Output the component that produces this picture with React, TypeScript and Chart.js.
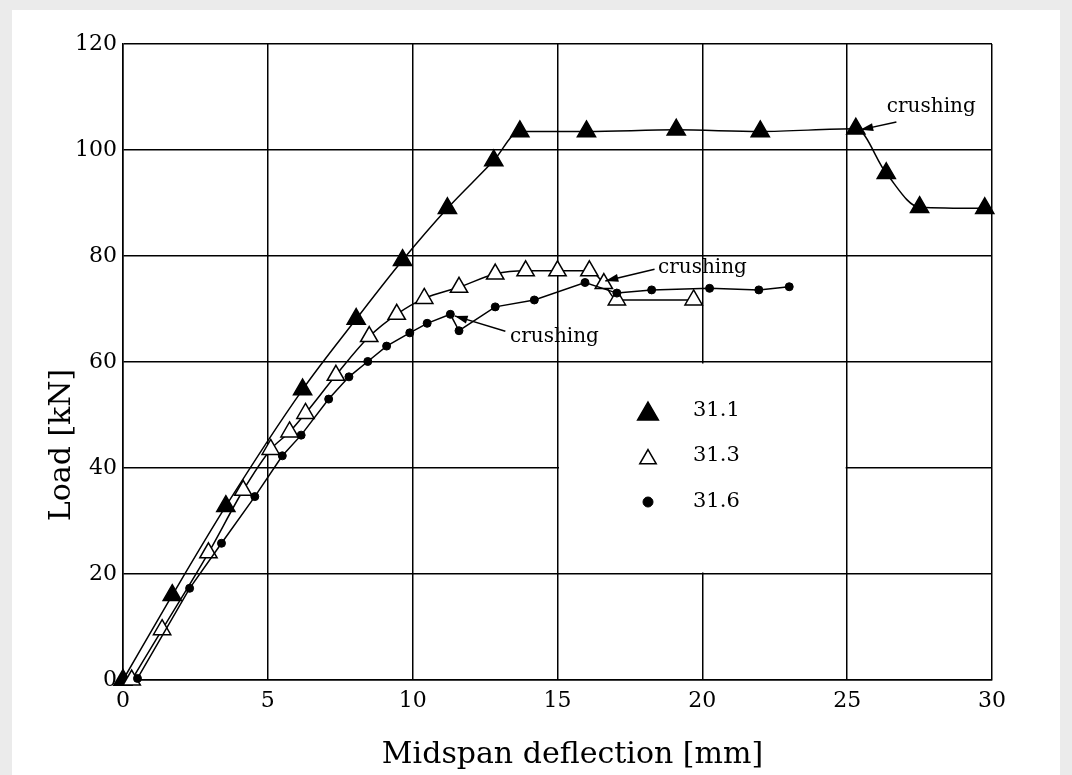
import React, { useEffect, useRef } from "react";
import { Chart, registerables } from "chart.js";
import { drawPoint } from "chart.js/helpers";

Chart.register(...registerables);

// ---- data ----
const seriesNames = ["31.1", "31.3", "31.6"];

const s311x = [0, 1.7, 3.55, 6.2, 8.05, 9.65, 11.2, 12.8, 13.7, 16.0, 19.1, 22.0, 25.3, 26.35, 27.5, 29.75];
const s311y = [0, 16, 32.8, 54.8, 68.1, 79.2, 89, 98, 103.5, 103.5, 103.8, 103.5, 104, 95.6, 89.2, 89];

const s313x = [0.3, 1.35, 2.95, 4.15, 5.1, 5.75, 6.3, 7.35, 8.5, 9.45, 10.4, 11.6, 12.85, 13.9, 15.0, 16.1, 16.6, 17.05, 19.7];
const s313y = [0, 9.5, 24, 35.8, 43.5, 46.8, 50.3, 57.5, 64.8, 69, 72, 74.1, 76.6, 77.2, 77.2, 77.2, 74.8, 71.7, 71.7];

const s316x = [0.5, 2.3, 3.4, 4.55, 5.5, 6.15, 7.1, 7.8, 8.45, 9.1, 9.9, 10.5, 11.3, 11.6, 12.85, 14.2, 15.95, 17.05, 18.25, 20.25, 21.95, 23.0];
const s316y = [0.3, 17.3, 25.8, 34.6, 42.3, 46.2, 53, 57.2, 60.1, 63, 65.5, 67.3, 69, 65.9, 70.4, 71.7, 75, 73, 73.6, 73.9, 73.6, 74.2];

const xTickValues = [0, 5, 10, 15, 20, 25, 30];
const yTickValues = [0, 20, 40, 60, 80, 100, 120];

const xTitle = "Midspan deflection [mm]";
const yTitle = "Load [kN]";

// annotations: text anchor (left/middle) and arrow from -> to, in data units
const annotationTexts = ["crushing", "crushing", "crushing"];
const annotationTextX = [26.37, 18.47, 13.36];
const annotationTextY = [108.1, 77.7, 64.7];
const arrowFromX = [26.7, 18.35, 13.2];
const arrowFromY = [105.3, 77.5, 65.8];
const arrowToX = [25.45, 16.65, 11.45];
const arrowToY = [103.8, 75.3, 68.7];

// legend box in data units (covers grid cell region)
const legendBoxX = [15, 25];
const legendBoxY = [20, 60];

const FONT = "'DejaVu Serif', 'Liberation Serif', serif";

function toPoints(xs: number[], ys: number[]) {
  return xs.map((x, i) => ({ x, y: ys[i] }));
}

const pointStyles = [
  { pointStyle: "triangle", radius: 10.5, fill: "#000", border: "#000", bw: 1.5, smooth: true },
  { pointStyle: "triangle", radius: 10, fill: "#fff", border: "#000", bw: 1.5, smooth: true },
  { pointStyle: "circle", radius: 4, fill: "#000", border: "#000", bw: 1, smooth: false },
];

const overlayPlugin = {
  id: "overlay",
  beforeDatasetsDraw(chart: any) {
    const { ctx } = chart;
    const xs = chart.scales.x;
    const ys = chart.scales.y;
    const l = xs.getPixelForValue(legendBoxX[0]) + 1.5;
    const r = xs.getPixelForValue(legendBoxX[1]) - 1.5;
    const t = ys.getPixelForValue(legendBoxY[1]) + 1.5;
    const b = ys.getPixelForValue(legendBoxY[0]) - 1.5;
    ctx.save();
    ctx.fillStyle = "#ffffff";
    ctx.fillRect(l, t, r - l, b - t);
    ctx.restore();
  },
  afterDatasetsDraw(chart: any) {
    const { ctx, chartArea } = chart;
    const xs = chart.scales.x;
    const ys = chart.scales.y;
    ctx.save();
    ctx.fillStyle = "#000";
    ctx.strokeStyle = "#000";

    // axis titles
    ctx.font = `30px ${FONT}`;
    ctx.textAlign = "center";
    ctx.textBaseline = "alphabetic";
    ctx.fillText(xTitle, (chartArea.left + chartArea.right) / 2 + 15, 763);
    ctx.save();
    ctx.translate(70, 445);
    ctx.rotate(-Math.PI / 2);
    ctx.fillText(yTitle, 0, 0);
    ctx.restore();

    // annotations
    ctx.font = `20px ${FONT}`;
    ctx.textAlign = "left";
    ctx.textBaseline = "middle";
    ctx.lineWidth = 1.5;
    annotationTexts.forEach((txt, i) => {
      ctx.fillText(txt, xs.getPixelForValue(annotationTextX[i]), ys.getPixelForValue(annotationTextY[i]));
      const x1 = xs.getPixelForValue(arrowFromX[i]);
      const y1 = ys.getPixelForValue(arrowFromY[i]);
      const x2 = xs.getPixelForValue(arrowToX[i]);
      const y2 = ys.getPixelForValue(arrowToY[i]);
      ctx.beginPath();
      ctx.moveTo(x1, y1);
      ctx.lineTo(x2, y2);
      ctx.stroke();
      const ang = Math.atan2(y2 - y1, x2 - x1);
      const len = 13;
      const half = 4;
      const bx = x2 - Math.cos(ang) * len;
      const by = y2 - Math.sin(ang) * len;
      ctx.beginPath();
      ctx.moveTo(x2, y2);
      ctx.lineTo(bx - Math.sin(ang) * half, by + Math.cos(ang) * half);
      ctx.lineTo(bx + Math.sin(ang) * half, by - Math.cos(ang) * half);
      ctx.closePath();
      ctx.fill();
    });

    // legend
    const mx = 648;
    const tx = 693;
    const rows = [411, 456, 502];
    const legendRadius = [12, 9.5, 5];
    ctx.font = `21px ${FONT}`;
    ctx.textAlign = "left";
    ctx.textBaseline = "middle";
    seriesNames.forEach((name, i) => {
      const ps = pointStyles[i];
      ctx.fillStyle = ps.fill;
      ctx.strokeStyle = ps.border;
      ctx.lineWidth = ps.bw;
      drawPoint(ctx, { pointStyle: ps.pointStyle, radius: legendRadius[i], rotation: 0, borderWidth: ps.bw }, mx, rows[i] + (ps.pointStyle === "triangle" ? 3 : 0));
      ctx.fillStyle = "#000";
      ctx.fillText(name, tx, rows[i]);
    });
    ctx.restore();
  },
};

export default function App() {
  const canvasRef = useRef<HTMLCanvasElement | null>(null);

  useEffect(() => {
    const canvas = canvasRef.current;
    if (!canvas) return;
    const seriesX = [s311x, s313x, s316x];
    const seriesY = [s311y, s313y, s316y];
    const chart = new Chart(canvas, {
      type: "scatter",
      data: {
        datasets: seriesNames.map((name, i) => ({
          label: name,
          data: toPoints(seriesX[i], seriesY[i]),
          showLine: true,
          borderColor: "#000",
          borderWidth: 1.5,
          backgroundColor: pointStyles[i].fill,
          pointStyle: pointStyles[i].pointStyle as any,
          pointRadius: pointStyles[i].radius,
          pointBackgroundColor: pointStyles[i].fill,
          pointBorderColor: pointStyles[i].border,
          pointBorderWidth: pointStyles[i].bw,
          cubicInterpolationMode: pointStyles[i].smooth ? ("monotone" as const) : ("default" as const),
          tension: 0,
          clip: false as any,
          order: 3 - i,
        })),
      },
      options: {
        responsive: false,
        animation: false,
        devicePixelRatio: 1,
        layout: { padding: { left: 0, top: 44, right: 80, bottom: 0 } },
        plugins: {
          legend: { display: false },
          tooltip: { enabled: false },
          title: { display: false },
        },
        scales: {
          x: {
            type: "linear",
            min: 0,
            max: 30,
            afterBuildTicks: (scale: any) => {
              scale.ticks = xTickValues.map((v) => ({ value: v }));
            },
            afterFit: (scale: any) => {
              scale.height = 95;
            },
            grid: { color: "#000", lineWidth: 1.5, drawTicks: false },
            border: { color: "#000", width: 1.5 },
            ticks: {
              color: "#000",
              font: { family: FONT, size: 22 },
              padding: 8,
              maxRotation: 0,
            },
          },
          y: {
            type: "linear",
            min: 0,
            max: 120,
            afterBuildTicks: (scale: any) => {
              scale.ticks = yTickValues.map((v) => ({ value: v }));
            },
            afterFit: (scale: any) => {
              scale.width = 123;
            },
            grid: { color: "#000", lineWidth: 1.5, drawTicks: false },
            border: { color: "#000", width: 1.5 },
            ticks: {
              color: "#000",
              font: { family: FONT, size: 22 },
              padding: 6,
            },
          },
        },
      },
      plugins: [overlayPlugin],
    });
    return () => chart.destroy();
  }, []);

  return (
    <div style={{ position: "fixed", left: 0, top: 0, width: 1072, height: 775, background: "#ebebeb", overflow: "hidden" }}>
      <div style={{ position: "absolute", left: 12, top: 10, width: 1048, height: 765, background: "#ffffff" }} />
      <canvas ref={canvasRef} width={1072} height={775} style={{ position: "absolute", left: 0, top: 0, width: 1072, height: 775 }} />
    </div>
  );
}
